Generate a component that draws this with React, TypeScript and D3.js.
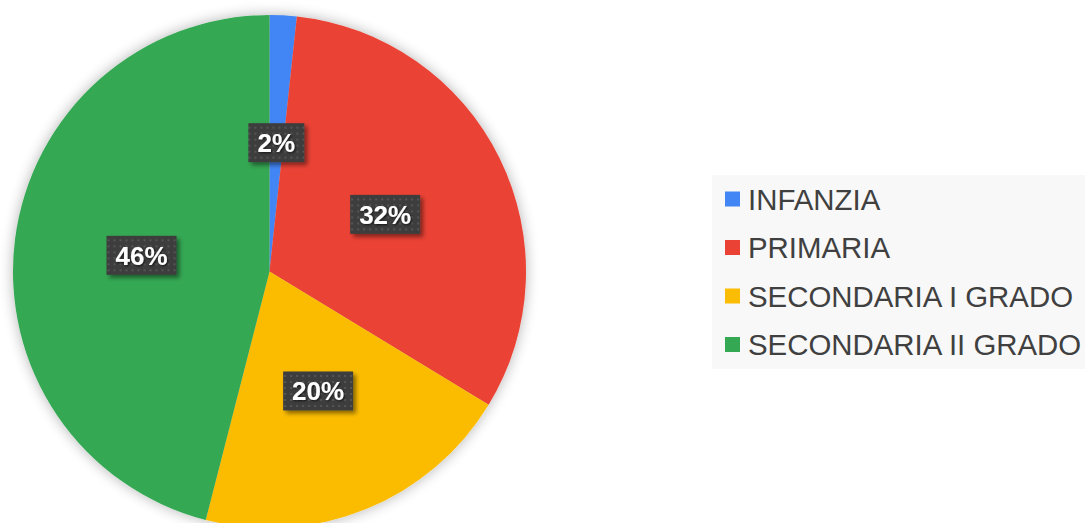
import React from "react";
import * as d3 from "d3";

const categories = ["INFANZIA", "PRIMARIA", "SECONDARIA I GRADO", "SECONDARIA II GRADO"];
const values = [1.7, 32.0, 20.3, 46.0];
const labels = ["2%", "32%", "20%", "46%"];
const colors = ["#4285F4", "#EA4335", "#FBBC04", "#34A853"];

const W = 1085;
const H = 523;
const cx = 269.5;
const cy = 271.5;
const R = 256.5;

export default function App() {
  const pie = d3.pie<number>().sort(null).value((d) => d)(values);
  const arc = d3.arc<d3.PieArcDatum<number>>().innerRadius(0).outerRadius(R);
  const labelArc = d3.arc<d3.PieArcDatum<number>>().innerRadius(129 * 2 - R).outerRadius(R);
  const font = "'Liberation Sans', Arial, sans-serif";
  const legendY = d3.scaleLinear().domain([0, 1]).range([199, 247.5]);
  return (
    <svg width={W} height={H} style={{ position: "absolute", left: 0, top: 0 }}>
      <defs>
        <filter id="pieShadow" x="-20%" y="-20%" width="140%" height="140%">
          <feGaussianBlur in="SourceAlpha" stdDeviation="7" />
          <feComponentTransfer>
            <feFuncA type="linear" slope="0.3" />
          </feComponentTransfer>
          <feMerge>
            <feMergeNode />
            <feMergeNode in="SourceGraphic" />
          </feMerge>
        </filter>
        <filter id="boxShadow" x="-30%" y="-30%" width="160%" height="160%">
          <feGaussianBlur in="SourceAlpha" stdDeviation="2" />
          <feOffset dx="3" dy="3" />
          <feComponentTransfer>
            <feFuncA type="linear" slope="0.45" />
          </feComponentTransfer>
          <feMerge>
            <feMergeNode />
            <feMergeNode in="SourceGraphic" />
          </feMerge>
        </filter>
        <filter id="textShadow" x="-30%" y="-30%" width="160%" height="160%">
          <feGaussianBlur in="SourceAlpha" stdDeviation="1.2" />
          <feOffset dx="1" dy="1" />
          <feComponentTransfer>
            <feFuncA type="linear" slope="0.7" />
          </feComponentTransfer>
          <feMerge>
            <feMergeNode />
            <feMergeNode in="SourceGraphic" />
          </feMerge>
        </filter>
        <pattern id="dots" width="6" height="6" patternUnits="userSpaceOnUse">
          <rect width="6" height="6" fill="#3d3d3d" />
          <rect x="2" y="2" width="2" height="2" fill="#555555" />
        </pattern>
      </defs>
      <rect width={W} height={H} fill="#ffffff" />
      <g transform={`translate(${cx},${cy})`}>
        <g filter="url(#pieShadow)">
          {pie.map((d, i) => (
            <path key={i} d={arc(d) || ""} fill={colors[i]} />
          ))}
        </g>
        {pie.map((d, i) => {
          const [x, y] = labelArc.centroid(d);
          const bw = labels[i].length === 2 ? 56 : 70;
          const bh = 39;
          return (
            <g key={i} transform={`translate(${x},${y})`}>
              <rect x={-bw / 2} y={-bh / 2} width={bw} height={bh} fill="url(#dots)" filter="url(#boxShadow)" />
              <text
                textAnchor="middle"
                dy="0.36em"
                fill="#ffffff"
                fontFamily={font}
                fontWeight="bold"
                fontSize={26}
                filter="url(#textShadow)"
              >
                {labels[i]}
              </text>
            </g>
          );
        })}
      </g>
      <rect x={712} y={175} width={373} height={194} fill="#f8f8f8" />
      {categories.map((c, i) => (
        <g key={c} transform={`translate(725,${legendY(i)})`}>
          <rect x={0} y={-7.5} width={15} height={15} fill={colors[i]} />
          <text x={23} dy="0.36em" fontFamily={font} fontSize={29.4} fill="#404040">
            {c}
          </text>
        </g>
      ))}
    </svg>
  );
}
